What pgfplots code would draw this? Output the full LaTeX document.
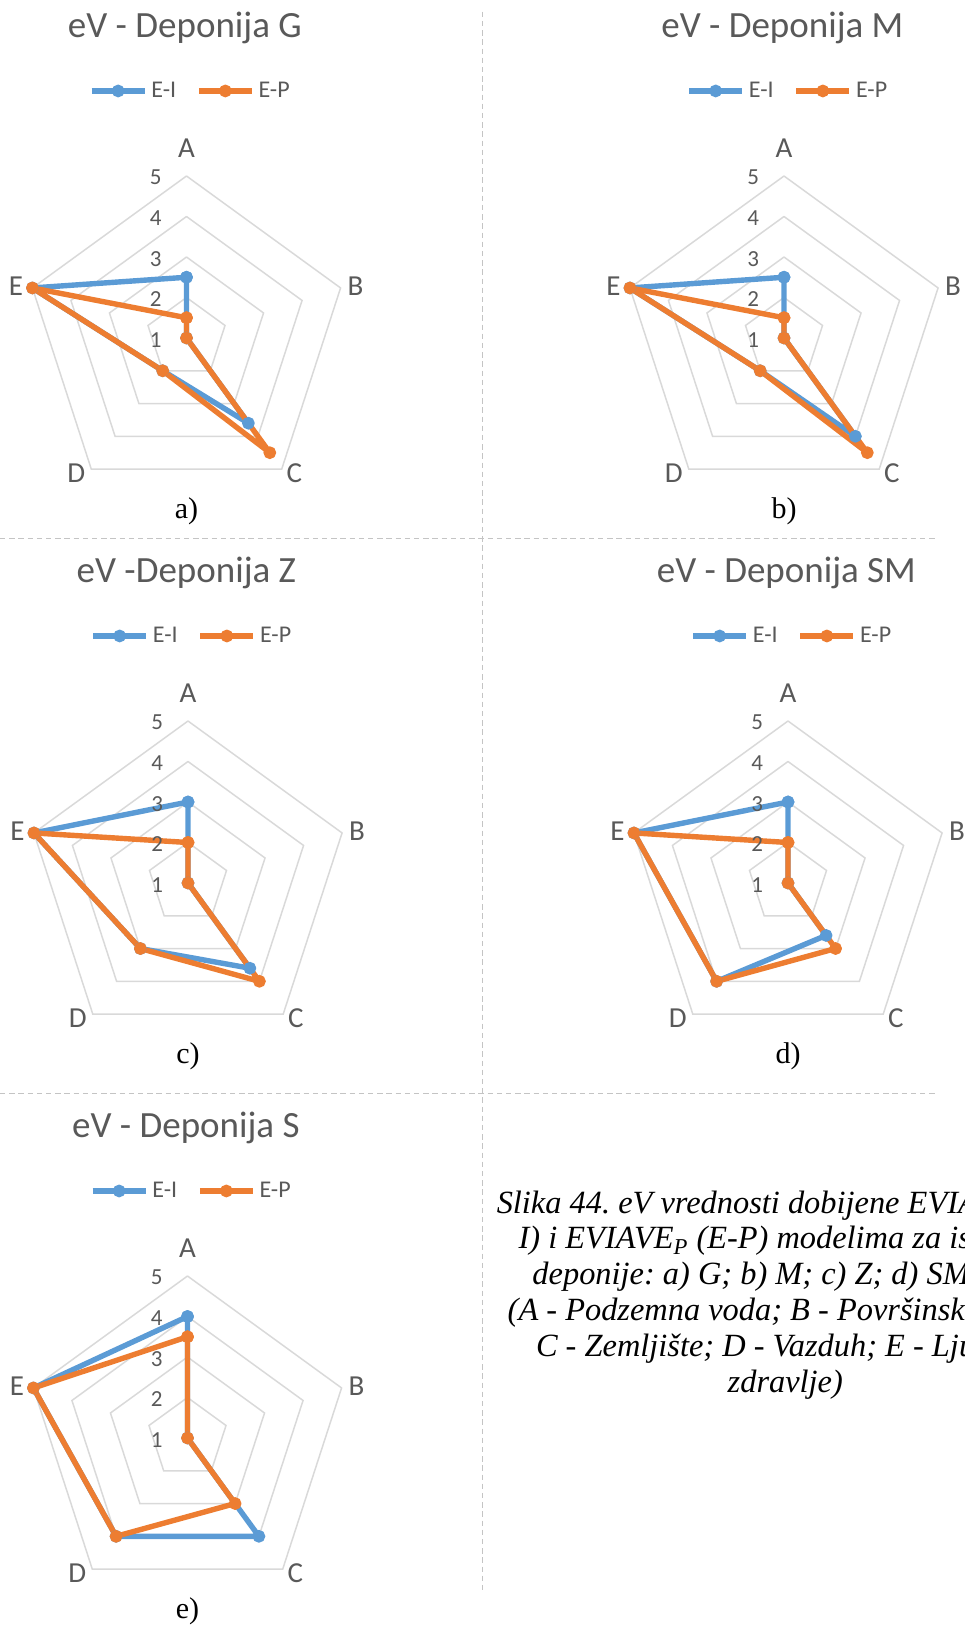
\documentclass[border=0pt]{standalone}
\usepackage{pgfplots}
\pgfplotsset{compat=1.18}
\usepackage{pgfplotstable}
\usepackage{fontspec}
\setmainfont{Liberation Serif}
\newfontfamily\calib{Carlito}
\frenchspacing
\definecolor{eiblue}{HTML}{5B9BD5}
\definecolor{eporange}{HTML}{ED7D31}
\definecolor{txtgray}{HTML}{595959}
\definecolor{gridgray}{HTML}{D9D9D9}
\definecolor{dashgray}{HTML}{C4C4C4}

\pgfplotstableread{
ang r
90 1
18 1
-54 1
-126 1
162 1
90 1
}\ringtab

% categories A B C D E (closing row repeats A)
\pgfplotstableread{
ang EI EP
90 2.5 1.5
18 1 1
-54 3.6 4.5
-126 2 2
162 5 5
90 2.5 1.5
}\tabG

\pgfplotstableread{
ang EI EP
90 2.5 1.5
18 1 1
-54 4 4.5
-126 2 2
162 5 5
90 2.5 1.5
}\tabM

\pgfplotstableread{
ang EI EP
90 3 2
18 1 1
-54 3.6 4
-126 3 3
162 5 5
90 3 2
}\tabZ

\pgfplotstableread{
ang EI EP
90 3 2
18 1 1
-54 2.6 3
-126 4 4
162 5 5
90 3 2
}\tabSM

\pgfplotstableread{
ang EI EP
90 4 3.5
18 1 1
-54 4 3
-126 4 4
162 5 5
90 4 3.5
}\tabS

\newcommand{\radar}[5]{%
\begin{axis}[
  at={(#1pt,#2pt)}, anchor=center,
  x=20.25pt, y=20.25pt,
  xmin=-4.6, xmax=4.6, ymin=-4.6, ymax=4.6,
  hide axis, clip=false,
  legend columns=2,
  legend style={draw=none, fill=none, at={(0.513,1.163)}, anchor=center,
    font=\calib\fontsize{12}{14}\selectfont, text=txtgray,
    /tikz/every even column/.append style={column sep=8pt},
    cells={anchor=west, inner sep=1pt}},
  legend image code/.code={\draw[mark repeat=2,mark phase=2] plot coordinates {(0pt,0pt) (13.25pt,0pt) (26.5pt,0pt)};},
]
\addplot[gridgray, line width=0.75pt, forget plot] table[x expr={1*cos(\thisrow{ang})}, y expr={1*sin(\thisrow{ang})}] \ringtab;
\addplot[gridgray, line width=0.75pt, forget plot] table[x expr={2*cos(\thisrow{ang})}, y expr={2*sin(\thisrow{ang})}] \ringtab;
\addplot[gridgray, line width=0.75pt, forget plot] table[x expr={3*cos(\thisrow{ang})}, y expr={3*sin(\thisrow{ang})}] \ringtab;
\addplot[gridgray, line width=0.75pt, forget plot] table[x expr={4*cos(\thisrow{ang})}, y expr={4*sin(\thisrow{ang})}] \ringtab;
\addplot[eiblue, line width=2.7pt, line join=round, mark=*, mark size=2.8pt, mark options={line width=0.8pt}]
  table[x expr={(\thisrow{EI}-1)*cos(\thisrow{ang})}, y expr={(\thisrow{EI}-1)*sin(\thisrow{ang})}] #3;
\addlegendentry{E-I}
\addplot[eporange, line width=2.7pt, line join=round, mark=*, mark size=2.8pt, mark options={line width=0.8pt}]
  table[x expr={(\thisrow{EP}-1)*cos(\thisrow{ang})}, y expr={(\thisrow{EP}-1)*sin(\thisrow{ang})}] #3;
\addlegendentry{E-P}
\node[font=\calib\fontsize{11.5}{13}\selectfont, text=txtgray] at (axis cs:-0.76,-0.04) {1};
\node[font=\calib\fontsize{11.5}{13}\selectfont, text=txtgray] at (axis cs:-0.76,0.96) {2};
\node[font=\calib\fontsize{11.5}{13}\selectfont, text=txtgray] at (axis cs:-0.76,1.96) {3};
\node[font=\calib\fontsize{11.5}{13}\selectfont, text=txtgray] at (axis cs:-0.76,2.96) {4};
\node[font=\calib\fontsize{11.5}{13}\selectfont, text=txtgray] at (axis cs:-0.76,3.96) {5};
\node[font=\calib\fontsize{14.5}{17}\selectfont, text=txtgray] at (axis cs:0,4.68) {A};
\node[font=\calib\fontsize{14.5}{17}\selectfont, text=txtgray] at (axis cs:4.17,1.28) {B};
\node[font=\calib\fontsize{14.5}{17}\selectfont, text=txtgray] at (axis cs:2.66,-3.34) {C};
\node[font=\calib\fontsize{14.5}{17}\selectfont, text=txtgray] at (axis cs:-2.72,-3.34) {D};
\node[font=\calib\fontsize{14.5}{17}\selectfont, text=txtgray] at (axis cs:-4.21,1.28) {E};
\node[font=\calib\fontsize{18.5}{22}\selectfont, text=txtgray] at (axis cs:-0.04,7.65) {#4};
\node[font=\fontsize{15}{18}\selectfont] at (axis cs:0,-4.27) {#5};
\end{axis}}

\begin{document}
\begin{tikzpicture}
\path[use as bounding box] (0pt,0pt) rectangle (482pt,-814pt);
\draw[dashgray, line width=0.5pt, dash pattern=on 2.7pt off 1.9pt] (241.35pt,-5.85pt) -- (241.35pt,-797pt);
\draw[dashgray, line width=0.5pt, dash pattern=on 2.7pt off 1.9pt] (0pt,-269.15pt) -- (469pt,-269.15pt);
\draw[dashgray, line width=0.5pt, dash pattern=on 2.7pt off 1.9pt] (0pt,-546.65pt) -- (469pt,-546.65pt);
\radar{93.25}{-169}{\tabG}{eV - Deponija G}{a)}
\radar{392}{-169}{\tabM}{eV - Deponija M}{b)}
\radar{94}{-441.5}{\tabZ}{eV -Deponija Z}{c)}
\radar{394}{-441.5}{\tabSM}{eV - Deponija SM}{d)}
\radar{93.75}{-719}{\tabS}{eV - Deponija S}{e)}
\node[align=center, font=\itshape\fontsize{16.2}{17.95}\selectfont] at (392.65pt,-647.5pt)
 {Slika 44. eV vrednosti dobijene EVIAVE\textsubscript{I} (E-\\
  I) i EVIAVE\textsubscript{P} (E-P) modelima za ispitane\\
  deponije: a) G; b) M; c) Z; d) SM; e) S\\
  (A - Podzemna voda; B - Površinska voda;\\
  C - Zemljište; D - Vazduh; E - Ljudsko\\
  zdravlje)};
\end{tikzpicture}
\end{document}
